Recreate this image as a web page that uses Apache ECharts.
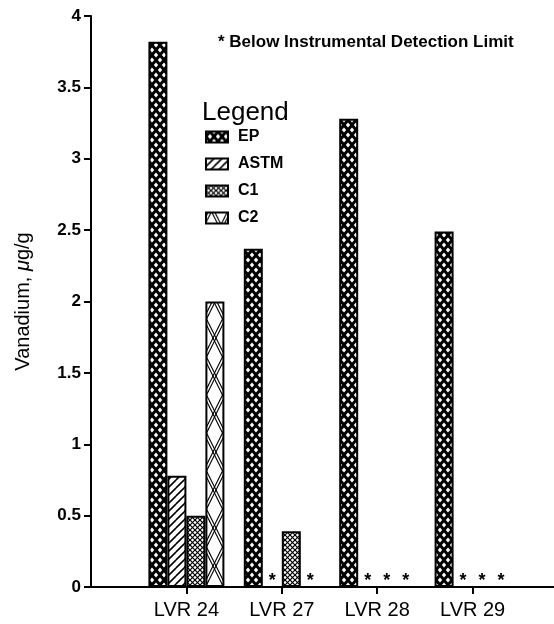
<!DOCTYPE html>
<html>
<head>
<meta charset="UTF-8">
<title>Vanadium</title>
<script src="https://cdn.jsdelivr.net/npm/echarts@6/dist/echarts.min.js"></script>
<style>
  html, body { margin: 0; padding: 0; background: #fff; }
  #main { width: 554px; height: 624px; }
</style>
</head>
<body>
<div id="main"></div>
<script>
  var categories = ['LVR 24', 'LVR 27', 'LVR 28', 'LVR 29'];
  var seriesNames = ['EP', 'ASTM', 'C1', 'C2'];
  // 0 means below instrumental detection limit, drawn as *
  var ep   = [3.82, 2.37, 3.28, 2.49];
  var astm = [0.78, 0, 0, 0];
  var c1   = [0.50, 0.39, 0, 0];
  var c2   = [2.00, 0, 0, 0];

  function pattern(w, h, bg, draw) {
    var c = document.createElement('canvas');
    c.width = w; c.height = h;
    var ctx = c.getContext('2d');
    ctx.fillStyle = bg;
    ctx.fillRect(0, 0, w, h);
    draw(ctx, w, h);
    return { image: c, repeat: 'repeat' };
  }

  // draw segments with wrap copies so the tile repeats seamlessly
  function segs(ctx, w, h, list, lw) {
    ctx.strokeStyle = '#000';
    ctx.lineWidth = lw;
    [-w, 0, w].forEach(function (ox) {
      [-h, 0, h].forEach(function (oy) {
        list.forEach(function (s) {
          ctx.beginPath();
          ctx.moveTo(s[0] + ox, s[1] + oy);
          ctx.lineTo(s[2] + ox, s[3] + oy);
          ctx.stroke();
        });
      });
    });
  }

  var epFill = pattern(8, 10, '#000', function (ctx, w, h) {
    ctx.fillStyle = '#fff';
    [[w / 2, h / 2], [0, 0], [w, 0], [0, h], [w, h]].forEach(function (p) {
      ctx.beginPath();
      ctx.moveTo(p[0], p[1] - 2.6);
      ctx.lineTo(p[0] + 2.2, p[1]);
      ctx.lineTo(p[0], p[1] + 2.6);
      ctx.lineTo(p[0] - 2.2, p[1]);
      ctx.closePath();
      ctx.fill();
    });
  });

  var astmFill = pattern(8, 8, '#fff', function (ctx, w, h) {
    segs(ctx, w, h, [[0, h, w, 0]], 1.6);
  });

  var c1Fill = pattern(5, 5, '#fff', function (ctx, w, h) {
    segs(ctx, w, h, [[0, 0, w, h], [w, 0, 0, h]], 1.2);
  });

  var c2Fill = pattern(19, 38, '#fff', function (ctx, w, h) {
    var s = 15;
    segs(ctx, w, h, [
      [s - 1.5, s, s + w - 1.5, s + h], [s + 1.5, s, s + w + 1.5, s + h],
      [s + w - 1.5, s, s - 1.5, s + h], [s + w + 1.5, s, s + 1.5, s + h]
    ], 1.1);
  });

  var fills = [epFill, astmFill, c1Fill, c2Fill];
  var values = [ep, astm, c1, c2];

  var axisCats = [''].concat(categories, ['']);

  var series = seriesNames.map(function (name, i) {
    return {
      name: name,
      type: 'bar',
      barWidth: 19,
      barGap: '0%',
      data: [null].concat(values[i], [null]),
      itemStyle: { color: fills[i], borderColor: '#000', borderWidth: 2 },
      label: {
        show: true,
        position: 'top',
        distance: -4,
        color: '#000',
        fontSize: 18,
        fontWeight: 'bold',
        fontFamily: 'Liberation Sans',
        formatter: function (p) { return p.value === 0 ? '*' : ''; }
      },
      emphasis: { disabled: true }
    };
  });

  var chart = echarts.init(document.getElementById('main'));
  chart.setOption({
    animation: false,
    backgroundColor: '#fff',
    textStyle: { fontFamily: 'Liberation Sans', color: '#000' },
    title: [
      {
        text: '* Below Instrumental Detection Limit',
        left: 213, top: 29,
        textStyle: { fontSize: 17, fontWeight: 'bold', color: '#000' }
      },
      {
        text: 'Legend',
        left: 197, top: 95,
        textStyle: { fontSize: 26, fontWeight: 'normal', color: '#000' }
      }
    ],
    legend: {
      orient: 'vertical',
      left: 205, top: 129,
      padding: 0,
      itemWidth: 22, itemHeight: 11,
      itemGap: 11,
      icon: 'rect',
      itemStyle: { borderColor: '#000', borderWidth: 2 },
      textStyle: { fontSize: 16, fontWeight: 'bold', color: '#000', padding: [0, 0, 0, 5] },
      data: seriesNames
    },
    grid: {
      left: 91, width: 477, top: 16, bottom: 37,
      containLabel: false, outerBoundsMode: 'none'
    },
    xAxis: {
      type: 'category',
      data: axisCats,
      boundaryGap: false,
      axisLine: { lineStyle: { color: '#000', width: 2 } },
      axisTick: {
        length: 7,
        interval: function (idx, val) { return val !== ''; },
        lineStyle: { color: '#000', width: 2 }
      },
      axisLabel: { margin: 13, fontSize: 20, color: '#000', interval: 0 },
      splitLine: { show: false }
    },
    yAxis: {
      type: 'value',
      min: 0, max: 4, interval: 0.5,
      name: '{n|Vanadium, }{i|μ}{n|g/g}',
      nameLocation: 'middle',
      nameGap: 58,
      nameTextStyle: {
        rich: {
          n: { fontSize: 20, color: '#000', fontFamily: 'Liberation Sans' },
          i: { fontSize: 20, color: '#000', fontStyle: 'italic', fontFamily: 'Liberation Sans' }
        }
      },
      axisLine: { show: true, lineStyle: { color: '#000', width: 2 } },
      axisTick: { show: true, length: 7, lineStyle: { color: '#000', width: 2 } },
      axisLabel: { margin: 10, fontSize: 17, fontWeight: 'bold', color: '#000' },
      splitLine: { show: false }
    },
    series: series
  });
</script>
</body>
</html>
